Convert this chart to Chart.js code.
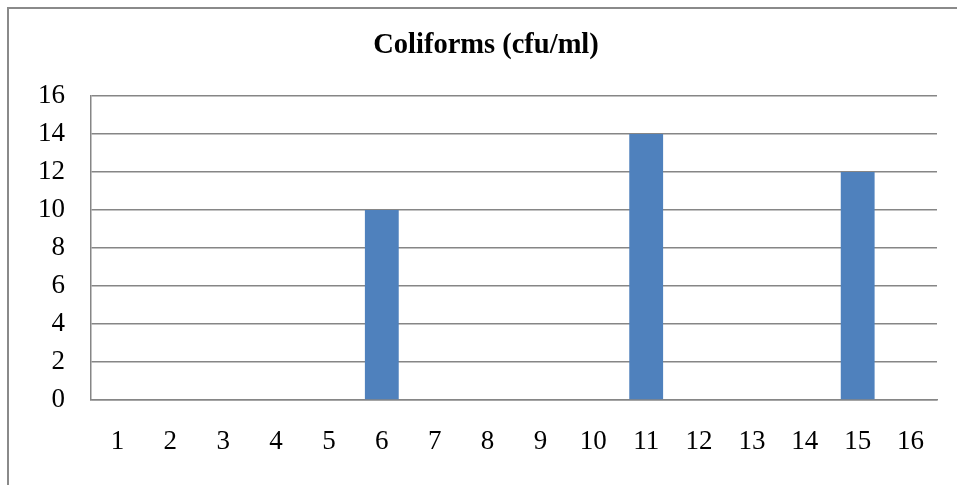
<!DOCTYPE html>
<html>
<head>
<meta charset="utf-8">
<script src="https://cdn.jsdelivr.net/npm/chart.js@4"></script>
<style>
  html, body { margin: 0; padding: 0; background: #fff; }
  #wrap { width: 957px; height: 485px; }
</style>
</head>
<body>
<div id="wrap"><canvas id="chart" width="957" height="485"></canvas></div>
<script>
// chart data
const categories = ['1', '2', '3', '4', '5', '6', '7', '8', '9', '10', '11', '12', '13', '14', '15', '16'];
const coliforms = [0, 0, 0, 0, 0, 10, 0, 0, 0, 0, 14, 0, 0, 0, 12, 0];
const yTicks = [0, 2, 4, 6, 8, 10, 12, 14, 16];
const chartTitle = 'Coliforms (cfu/ml)';

const gridColor = '#868686';
const serif = "'Liberation Serif', 'Times New Roman', serif";

// outer frame + title, centred on the frame rather than the plot
const framePlugin = {
  id: 'frame',
  beforeDraw(chart) {
    const ctx = chart.ctx;
    ctx.save();
    ctx.fillStyle = '#fff';
    ctx.fillRect(0, 0, chart.width, chart.height);
    ctx.strokeStyle = '#8a8a8a';
    ctx.lineWidth = 2;
    ctx.strokeRect(8, 8, chart.width + 20, chart.height + 20);
    ctx.restore();
  },
  afterDraw(chart) {
    const ctx = chart.ctx;
    ctx.save();
    ctx.fillStyle = '#000';
    ctx.font = 'bold 28.5px ' + serif;
    ctx.textAlign = 'center';
    ctx.textBaseline = 'middle';
    ctx.fillText(chartTitle, 486, 46);
    ctx.restore();
  }
};

const ctx = document.getElementById('chart').getContext('2d');
new Chart(ctx, {
  type: 'bar',
  data: {
    labels: categories,
    datasets: [{
      label: chartTitle,
      data: coliforms,
      backgroundColor: '#4F81BD',
      borderWidth: 0,
      categoryPercentage: 0.64,
      barPercentage: 1.0
    }]
  },
  options: {
    responsive: false,
    animation: false,
    layout: { padding: { top: 96, right: 20, bottom: 0, left: 0 } },
    plugins: {
      legend: { display: false },
      tooltip: { enabled: false },
      title: { display: false }
    },
    scales: {
      x: {
        grid: { display: false, drawTicks: false },
        border: { display: true, color: gridColor, width: 1.5 },
        ticks: {
          color: '#000',
          font: { family: serif, size: 27 },
          padding: 26,
          maxRotation: 0,
          autoSkip: false
        },
        afterFit(scale) { scale.height = 85; }
      },
      y: {
        min: 0,
        max: 16,
        afterBuildTicks(scale) { scale.ticks = yTicks.map(v => ({ value: v })); },
        grid: { color: gridColor, lineWidth: 1.5, drawTicks: false },
        border: { display: true, color: gridColor, width: 1.5 },
        ticks: {
          color: '#000',
          font: { family: serif, size: 27 },
          padding: 26
        },
        afterFit(scale) { scale.width = 91; }
      }
    }
  },
  plugins: [framePlugin]
});
</script>
</body>
</html>
